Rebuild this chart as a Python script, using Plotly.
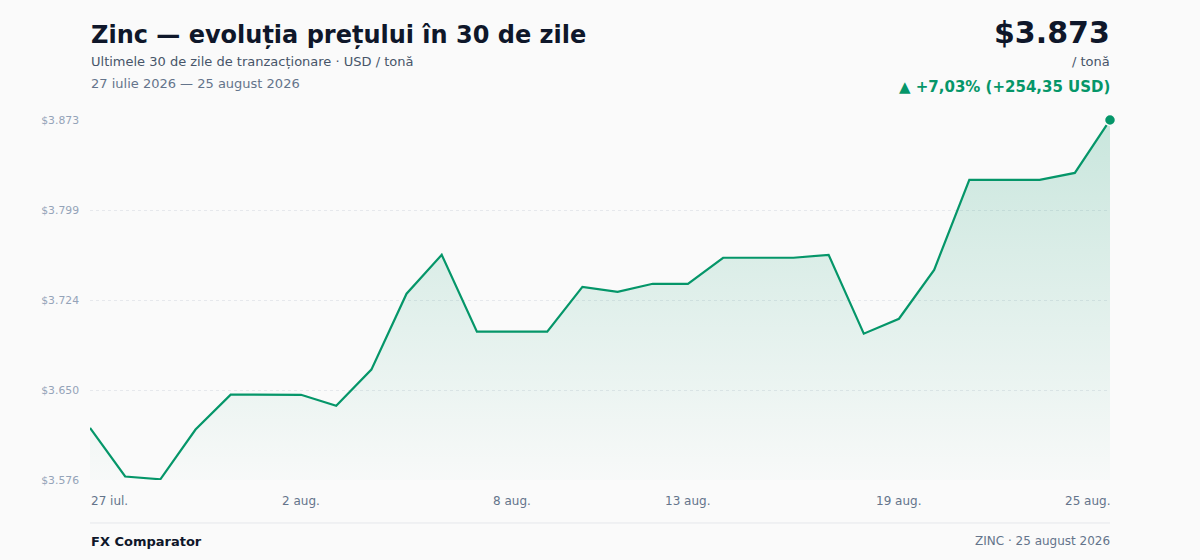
import pandas as pd
import plotly.graph_objects as go

# date zilnice, 27 iulie - 25 august 2026
dates = pd.date_range("2026-07-27", periods=30, freq="D")
prices = [3618.65, 3578.5, 3576.2, 3617.3, 3646.1, 3646.0, 3646.0, 3637.0, 3666.8, 3729.5,
          3761.6, 3698.1, 3698.1, 3698.1, 3735.2, 3731.1, 3737.7, 3737.7, 3759.2, 3759.2,
          3759.2, 3761.6, 3696.5, 3708.8, 3749.2, 3823.5, 3823.5, 3823.5, 3829.3, 3873.0]

y_tick_vals = [3575.6, 3649.95, 3724.3, 3798.65, 3873.0]
y_tick_text = ["$3.576", "$3.650", "$3.724", "$3.799", "$3.873"]

x_label_dates = ["2026-07-27", "2026-08-02", "2026-08-08", "2026-08-13", "2026-08-19", "2026-08-25"]
x_label_text = ["27 iul.", "2 aug.", "8 aug.", "13 aug.", "19 aug.", "25 aug."]

GREEN = "#059669"
FONT = "DejaVu Sans"

fig = go.Figure()

# aria cu gradient sub linie
fig.add_trace(go.Scatter(
    x=dates, y=prices, mode="lines",
    line=dict(color=GREEN, width=2.2),
    fill="tozeroy",
    fillgradient=dict(type="vertical", start=y_tick_vals[0], stop=y_tick_vals[-1],
                      colorscale=[[0, "rgba(5,150,105,0.01)"], [1, "rgba(5,150,105,0.20)"]]),
    hoverinfo="skip", showlegend=False,
))

# ultimul punct
fig.add_trace(go.Scatter(
    x=[dates[-1]], y=[prices[-1]], mode="markers",
    marker=dict(color=GREEN, size=11, line=dict(color="#fafafa", width=1.5)),
    cliponaxis=False, showlegend=False, hoverinfo="skip",
))

def paper_y(px):
    return (480 - px) / 360

ann = []
ann.append(dict(text="<b>Zinc — evoluția prețului în 30 de zile</b>", x=0, y=paper_y(35),
                xanchor="left", yanchor="middle", font=dict(size=24, color="#0f172a")))
ann.append(dict(text="Ultimele 30 de zile de tranzacționare · USD / tonă", x=0, y=paper_y(62),
                xanchor="left", yanchor="middle", font=dict(size=13, color="#475569")))
ann.append(dict(text="27 iulie 2026 — 25 august 2026", x=0, y=paper_y(84),
                xanchor="left", yanchor="middle", font=dict(size=13, color="#64748b")))
ann.append(dict(text="<b>$3.873</b>", x=1, y=paper_y(32),
                xanchor="right", yanchor="middle", font=dict(size=30, color="#0f172a")))
ann.append(dict(text="/ tonă", x=1, y=paper_y(62),
                xanchor="right", yanchor="middle", font=dict(size=13, color="#475569")))
ann.append(dict(text="<b>▲ +7,03% (+254,35 USD)</b>", x=1, y=paper_y(87),
                xanchor="right", yanchor="middle", font=dict(size=15, color=GREEN)))
ann.append(dict(text="<b>FX Comparator</b>", x=0, y=paper_y(541),
                xanchor="left", yanchor="middle", font=dict(size=13, color="#0f172a")))
ann.append(dict(text="ZINC · 25 august 2026", x=1, y=paper_y(541),
                xanchor="right", yanchor="middle", font=dict(size=12, color="#64748b")))
for i, (d, t) in enumerate(zip(x_label_dates, x_label_text)):
    anchor = "left" if i == 0 else ("right" if i == len(x_label_dates) - 1 else "center")
    ann.append(dict(text=t, x=d, xref="x", y=paper_y(501), xanchor=anchor, yanchor="middle",
                    font=dict(size=12, color="#64748b")))
for a in ann:
    a.setdefault("xref", "paper")
    a["yref"] = "paper"
    a["showarrow"] = False
    if a["xanchor"] == "left":
        a["xshift"] = -1.5
    elif a["xanchor"] == "right":
        a["xshift"] = 1.5

fig.update_layout(
    width=1200, height=560,
    margin=dict(l=90, r=90, t=120, b=80),
    paper_bgcolor="#fafafa", plot_bgcolor="#fafafa",
    font=dict(family=FONT),
    annotations=ann,
    shapes=[dict(type="line", xref="paper", yref="paper", x0=0, x1=1,
                 y0=paper_y(523), y1=paper_y(523), line=dict(color="#e5e7eb", width=1))],
    xaxis=dict(range=[dates[0], dates[-1]], showticklabels=False, showgrid=False,
               zeroline=False, showline=False),
    yaxis=dict(range=[y_tick_vals[0], y_tick_vals[-1]], tickvals=y_tick_vals, ticktext=y_tick_text,
               showgrid=True, gridcolor="#e6e8ec", griddash="dot", gridwidth=1,
               zeroline=False, showline=False, ticklabelstandoff=10,
               tickfont=dict(size=10.8, color="#94a3b8")),
)

# fara marginea implicita a paginii, fara bara de unelte
fig.write_html("out.html", config={"displayModeBar": False},
               post_script="document.body.style.margin='0';document.body.style.background='#fafafa';")
